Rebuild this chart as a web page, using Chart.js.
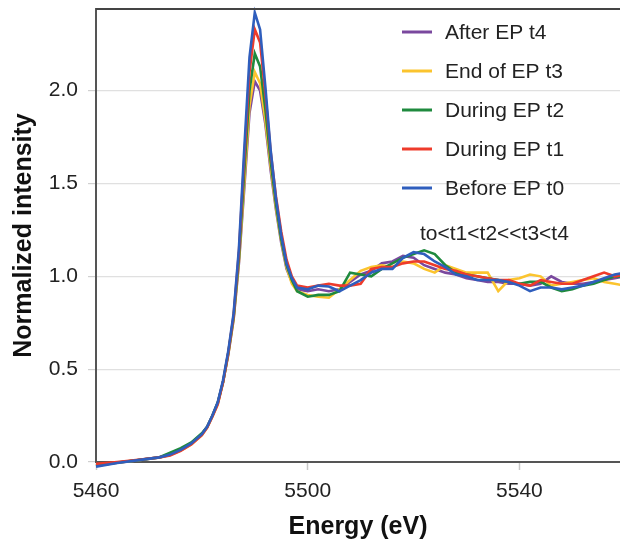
<!DOCTYPE html>
<html>
<head>
<meta charset="utf-8">
<script src="https://cdn.jsdelivr.net/npm/chart.js@4.4.1/dist/chart.umd.min.js"></script>
<style>
  html, body { margin: 0; padding: 0; background: #fff; }
  #wrap { width: 620px; height: 545px; }
</style>
</head>
<body>
<div id="wrap"><canvas id="chart" width="620" height="545"></canvas></div>
<script>
// energy grid (eV)
const energy = [5460, 5464, 5468, 5472, 5474, 5476, 5478, 5480, 5481, 5482, 5483, 5484, 5485, 5486,
  5487, 5488, 5489, 5490, 5491, 5492, 5493, 5494, 5495, 5496, 5497, 5498,
  5500, 5502, 5504, 5506, 5508, 5510, 5512, 5514, 5516, 5518, 5520, 5522, 5524, 5526, 5528, 5530,
  5532, 5534, 5536, 5538, 5540, 5542, 5544, 5546, 5548, 5550, 5552, 5554, 5556, 5558, 5560];

// normalized intensity per measurement
const before_t0 = [-0.025, -0.005, 0.01, 0.025, 0.04, 0.065, 0.10, 0.15, 0.19, 0.25, 0.32, 0.44, 0.60, 0.80,
  1.15, 1.68, 2.18, 2.42, 2.33, 2.02, 1.68, 1.42, 1.22, 1.07, 0.99, 0.94,
  0.93, 0.95, 0.945, 0.92, 0.95, 0.98, 1.02, 1.04, 1.04, 1.10, 1.13, 1.12, 1.08, 1.05, 1.01, 1.00,
  0.98, 0.98, 0.98, 0.97, 0.95, 0.92, 0.94, 0.94, 0.93, 0.94, 0.95, 0.97, 0.99, 1.01, 1.02];
const during_t1 = [-0.01, 0.0, 0.012, 0.025, 0.035, 0.06, 0.095, 0.145, 0.185, 0.245, 0.31, 0.43, 0.59, 0.79,
  1.13, 1.63, 2.10, 2.33, 2.26, 1.98, 1.67, 1.43, 1.24, 1.09, 1.00, 0.95,
  0.94, 0.95, 0.96, 0.95, 0.95, 0.96, 1.04, 1.05, 1.05, 1.07, 1.08, 1.08, 1.06, 1.04, 1.03, 1.01,
  1.00, 0.99, 0.98, 0.98, 0.96, 0.95, 0.98, 0.97, 0.96, 0.96, 0.98, 1.00, 1.02, 1.00, 1.01];
const during_t2 = [-0.02, -0.003, 0.01, 0.026, 0.05, 0.075, 0.105, 0.155, 0.19, 0.25, 0.32, 0.43, 0.59, 0.78,
  1.10, 1.56, 2.00, 2.20, 2.13, 1.90, 1.62, 1.39, 1.20, 1.06, 0.98, 0.92,
  0.89, 0.90, 0.90, 0.92, 1.02, 1.01, 1.00, 1.04, 1.07, 1.10, 1.12, 1.14, 1.12, 1.06, 1.02, 1.01,
  1.00, 0.99, 0.98, 0.97, 0.96, 0.97, 0.97, 0.94, 0.92, 0.93, 0.95, 0.96, 0.98, 1.00, 1.00];
const end_t3 = [-0.02, -0.004, 0.01, 0.024, 0.038, 0.062, 0.095, 0.145, 0.185, 0.245, 0.31, 0.43, 0.58, 0.77,
  1.08, 1.50, 1.92, 2.10, 2.04, 1.84, 1.59, 1.37, 1.19, 1.05, 0.96, 0.92,
  0.90, 0.89, 0.885, 0.93, 0.98, 1.03, 1.05, 1.06, 1.05, 1.08, 1.07, 1.04, 1.02, 1.06, 1.04, 1.02,
  1.02, 1.02, 0.92, 0.98, 0.99, 1.01, 1.00, 0.95, 0.96, 0.97, 0.98, 0.99, 0.97, 0.96, 0.95];
const after_t4 = [-0.02, -0.004, 0.01, 0.025, 0.04, 0.065, 0.10, 0.15, 0.19, 0.25, 0.32, 0.43, 0.58, 0.77,
  1.07, 1.47, 1.88, 2.05, 2.00, 1.82, 1.57, 1.36, 1.18, 1.04, 0.97, 0.93,
  0.92, 0.93, 0.92, 0.93, 0.97, 1.01, 1.03, 1.07, 1.08, 1.11, 1.10, 1.06, 1.04, 1.02, 1.01, 0.99,
  0.98, 0.97, 0.97, 0.96, 0.96, 0.95, 0.96, 1.00, 0.97, 0.96, 0.96, 0.97, 0.98, 0.99, 1.00];

// drawing order: first one ends up on top
const seriesLabels = ["Before EP t0", "During EP t1", "During EP t2", "End of EP t3", "After EP t4"];
const seriesData = [before_t0, during_t1, during_t2, end_t3, after_t4];
const seriesColors = ["#2f5ebd", "#ee3b2b", "#1f8a3e", "#fbc42e", "#7a489e"];

const xTicks = [5460, 5500, 5540];
const yTicks = [0.0, 0.5, 1.0, 1.5, 2.0];
const note = "to<t1<t2<<t3<t4";

const FONT = '"Liberation Sans", Arial, Helvetica, sans-serif';

// legend on the right, listed top-down from t4 to t0
const sideLegend = {
  id: "sideLegend",
  afterDraw(chart) {
    const ctx = chart.ctx;
    ctx.save();
    ctx.font = "21px " + FONT;
    ctx.textBaseline = "middle";
    ctx.fillStyle = "#222";
    const rows = seriesLabels.map((l, i) => i).reverse();
    rows.forEach((idx, i) => {
      const y = 32 + i * 39;
      ctx.strokeStyle = seriesColors[idx];
      ctx.lineWidth = 3;
      ctx.beginPath();
      ctx.moveTo(402, y);
      ctx.lineTo(432, y);
      ctx.stroke();
      ctx.fillText(seriesLabels[idx], 445, y + 1);
    });
    ctx.fillText(note, 420, 234);
    ctx.restore();
  }
};

// dark line on top of the plot area
const topBorder = {
  id: "topBorder",
  afterDraw(chart) {
    const a = chart.chartArea;
    const ctx = chart.ctx;
    ctx.save();
    ctx.strokeStyle = "#444";
    ctx.lineWidth = 2;
    ctx.beginPath();
    ctx.moveTo(a.left, a.top);
    ctx.lineTo(a.right, a.top);
    ctx.stroke();
    ctx.restore();
  }
};

new Chart(document.getElementById("chart"), {
  type: "line",
  data: {
    datasets: seriesData.map((vals, i) => ({
      label: seriesLabels[i],
      data: energy.map((e, j) => ({ x: e, y: vals[j] })),
      borderColor: seriesColors[i],
      borderWidth: 2.6,
      pointRadius: 0,
      tension: 0,
      fill: false,
      clip: false
    }))
  },
  options: {
    responsive: false,
    animation: false,
    layout: { padding: { top: 9, right: 0, left: 0, bottom: 0 } },
    plugins: { legend: { display: false }, tooltip: { enabled: false } },
    scales: {
      x: {
        type: "linear",
        min: 5460,
        max: 5559,
        afterFit(s) { s.height = 83; s.paddingRight = 0; },
        afterBuildTicks(s) { s.ticks = xTicks.map(v => ({ value: v })); },
        ticks: { font: { size: 21, family: FONT }, color: "#222", padding: 9, maxRotation: 0,
          callback: v => String(v) },
        grid: { drawOnChartArea: false, tickLength: 8, tickColor: "#c8c8c8", tickWidth: 1.5 },
        border: { color: "#555", width: 2 },
        title: {
          display: true, text: "Energy (eV)", color: "#111",
          font: { size: 25, weight: "bold", family: FONT },
          padding: { top: 0, bottom: 3 }
        }
      },
      y: {
        min: 0,
        max: 2.44,
        afterFit(s) { s.width = 96; s.paddingTop = 0; s.paddingBottom = 0; },
        afterBuildTicks(s) { s.ticks = yTicks.map(v => ({ value: v })); },
        ticks: { font: { size: 21, family: FONT }, color: "#222", padding: 10,
          callback: v => v.toFixed(1) },
        grid: { color: "#e0e0e0", lineWidth: 1.2, tickLength: 8, tickColor: "#d0d0d0" },
        border: { color: "#555", width: 2 },
        title: {
          display: true, text: "Normalized intensity", color: "#111",
          font: { size: 25, weight: "bold", family: FONT },
          padding: { top: 9, bottom: 0 }
        }
      }
    }
  },
  plugins: [sideLegend, topBorder]
});
</script>
</body>
</html>
